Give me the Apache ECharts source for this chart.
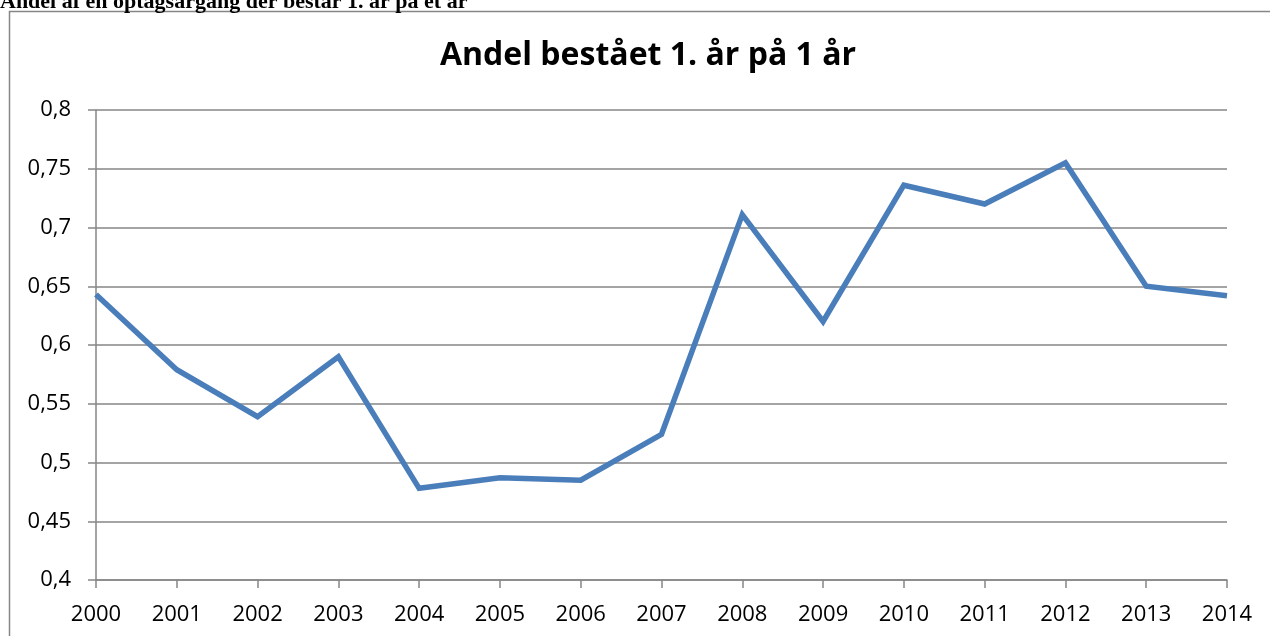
<html>
<head>
  <meta charset="utf-8">
  <script src="https://cdnjs.cloudflare.com/ajax/libs/echarts/6.0.0/echarts.min.js"></script>
  <title>Andel bestået 1. år på 1 år</title>
</head>
<body style="margin: 0; overflow: hidden; background: #fff;">
  <div id="main" style="width: 1270px; height: 636px;"></div>
  <script>
    // værdier
    var years = ['2000', '2001', '2002', '2003', '2004', '2005', '2006', '2007',
                 '2008', '2009', '2010', '2011', '2012', '2013', '2014'];
    var andel = [0.643, 0.579, 0.539, 0.590, 0.478, 0.487, 0.485, 0.524,
                 0.711, 0.620, 0.736, 0.720, 0.755, 0.650, 0.642];
    var yMin = 0.4, yMax = 0.8, yStep = 0.05;

    var gray = '#868686';
    var myChart = echarts.init(document.getElementById('main'));

    var option = {
      animation: false,
      title: [{
        text: 'Andel bestået 1. år på 1 år',
        left: 643,
        textAlign: 'center',
        top: 35,
        textStyle: { fontFamily: 'Open Sans', fontWeight: 'bold', fontSize: 32, color: '#000' }
      }, {
        text: 'Andel af en optagsårgang der består 1. år på et år',
        left: 0,
        top: -9,
        padding: 0,
        textStyle: { fontFamily: 'Liberation Serif', fontWeight: 'bold', fontSize: 22, color: '#000' }
      }],
      graphic: [{
        type: 'rect',
        shape: { x: 9.5, y: 11.5, width: 1400, height: 800 },
        style: { fill: 'none', stroke: gray, lineWidth: 1.5 }
      }],
      grid: { left: 96, right: 43, top: 110, bottom: 56 },
      xAxis: {
        type: 'category',
        data: years,
        boundaryGap: false,
        axisLine: { lineStyle: { color: gray, width: 1.5 } },
        axisTick: { show: true, length: 8, alignWithLabel: true, lineStyle: { color: gray, width: 1.5 } },
        axisLabel: { color: '#000', fontFamily: 'Open Sans', fontSize: 22, margin: 24 },
        splitLine: { show: false }
      },
      yAxis: {
        type: 'value',
        min: yMin,
        max: yMax,
        interval: yStep,
        axisLine: { show: true, lineStyle: { color: gray, width: 1.5 } },
        axisTick: { show: true, length: 8, lineStyle: { color: gray, width: 1.5 } },
        axisLabel: {
          color: '#000', fontFamily: 'Open Sans', fontSize: 22, margin: 25,
          formatter: function (v) { return String(+v.toFixed(2)).replace('.', ','); }
        },
        splitLine: { show: true, lineStyle: { color: gray, width: 1.5 } }
      },
      series: [{
        type: 'line',
        data: andel,
        symbol: 'none',
        lineStyle: { color: '#4a7ebb', width: 5.5, join: 'miter' },
        itemStyle: { color: '#4a7ebb' }
      }]
    };

    myChart.setOption(option);
  </script>
</body>
</html>
